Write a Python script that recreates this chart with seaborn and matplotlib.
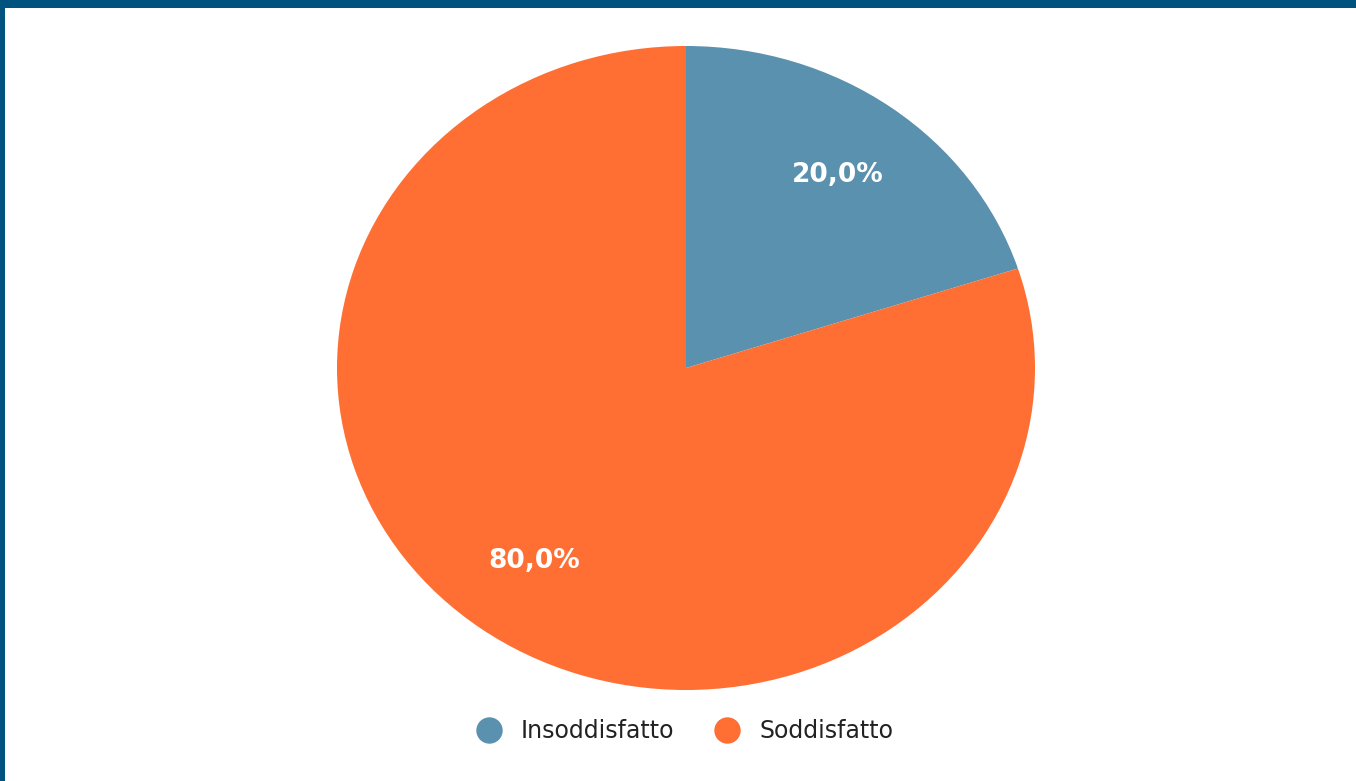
import matplotlib
matplotlib.use("Agg")
import matplotlib.pyplot as plt
import seaborn as sns
from matplotlib.lines import Line2D
from matplotlib.patches import Rectangle

labels = ["Insoddisfatto", "Soddisfatto"]
values = [20.0, 80.0]
colors = ["#5A91AE", "#FF6E33"]

W, H = 1356, 781

sns.set_theme(style="white")
plt.rcParams["font.family"] = ["DejaVu Sans"]

fig = plt.figure(figsize=(W / 100, H / 100), dpi=100)
fig.patch.set_facecolor("white")

ax = fig.add_axes([337 / W, (H - 690) / H, 698 / W, 644 / H])
palette = sns.color_palette(colors)
wedges, texts, autotexts = ax.pie(
    values,
    colors=palette,
    startangle=90,
    counterclock=False,
    autopct=lambda p: f"{p:.1f}%".replace(".", ","),
    pctdistance=0.74,
    wedgeprops={"linewidth": 0},
    textprops={"color": "white", "fontsize": 19, "fontweight": "bold"},
)
ax.set_aspect("auto")
ax.set_xlim(-1, 1)
ax.set_ylim(-1, 1)
ax.axis("off")

handles = [
    Line2D([], [], marker="o", linestyle="none", markersize=19,
           markerfacecolor=c, markeredgewidth=0)
    for c in colors
]
fig.legend(
    handles, labels,
    loc="center", bbox_to_anchor=(685 / W, (H - 731) / H),
    ncol=2, frameon=False, fontsize=17, labelcolor="#222222",
    handletextpad=0.85, columnspacing=1.75, handlelength=1.0,
)

# dark blue frame on top and left
fig.patches.append(Rectangle((0, 1 - 8 / H), 1, 8 / H, transform=fig.transFigure,
                             facecolor="#00537F", edgecolor="none", zorder=10))
fig.patches.append(Rectangle((0, 0), 5 / W, 1, transform=fig.transFigure,
                             facecolor="#00537F", edgecolor="none", zorder=10))

fig.savefig("out.png", dpi=100)
